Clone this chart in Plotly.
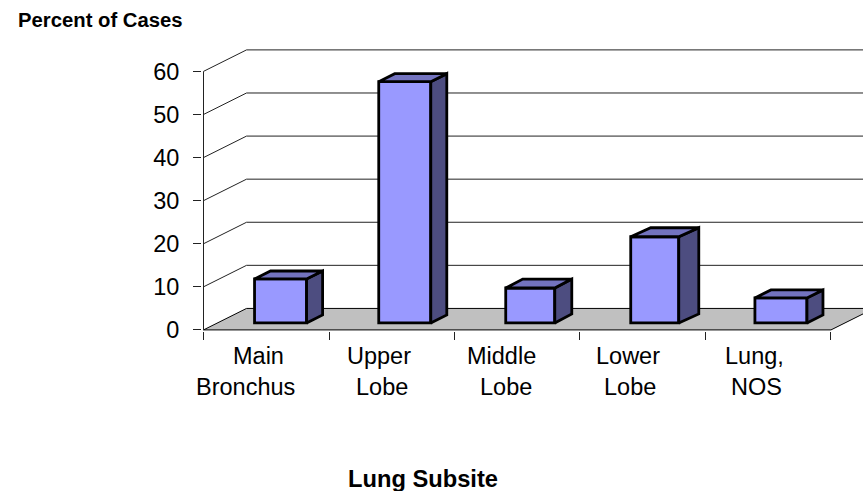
import plotly.graph_objects as go

label_line1 = ["Main", "Upper", "Middle", "Lower", "Lung,"]
label_line2 = ["Bronchus", "Lobe", "Lobe", "Lobe", "NOS"]
values = [10.2, 56, 8.1, 20, 5.8]
y_ticks = [0, 10, 20, 30, 40, 50, 60]

FONT = "Liberation Sans, Arial, sans-serif"
W, H = 863, 491
PX_X, PX_Y = 125.4, 4.31          # pixels per axis unit
X0_PX, Y0_PX = 204, 330           # pixel position of the data origin
XMIN, YMIN = -0.012, -0.25
XMAX, YMAX = (W - X0_PX) / PX_X, (Y0_PX - 48) / PX_Y
WALL_DX, WALL_DY = 43 / PX_X, 21.5 / PX_Y
BAR_OFF_Y = 7 / PX_Y
n = len(values)
mids = [i + 0.5 for i in range(n)]
# per-bar drawing geometry, in pixels (left edge offset from category centre, width, depth)
bar_shift_px = [-11.7, -13, -11.5, -12, -13.3]
bar_width_px = [52, 52, 49, 48, 52]
bar_dx_px = [16, 16, 17, 20, 16]
bar_dy_px = [8, 8, 9, 9, 8]
# label placement (pixels relative to the category centre)
shift1 = [-7.7, -12.5, -16.2, -14.3, -13.3]
shift2 = [-20.7, -10, -11.7, -12.5, -11.3]
LINE1_Y, LINE2_Y = 356, 387
EDGE = 2.8

M_L = X0_PX + XMIN * PX_X
M_B = H - Y0_PX + YMIN * PX_Y
M_T = 48


def paper_x(px):
    return (px - M_L) / (W - M_L)


def paper_y(px):
    return (H - M_B - px) / (H - M_B - M_T)


shapes = []
shapes.append(dict(type="path", layer="below", xref="x", yref="y",
                   path=f"M0,0 L{n},0 L{n + WALL_DX},{WALL_DY} L{WALL_DX},{WALL_DY} Z",
                   fillcolor="#C0C0C0", line=dict(color="black", width=1)))
for t in y_ticks[1:]:
    shapes.append(dict(type="path", layer="below", xref="x", yref="y",
                       path=f"M0,{t} L{WALL_DX},{t + WALL_DY} L{n + WALL_DX},{t + WALL_DY}",
                       line=dict(color="#222222", width=1)))
shapes.append(dict(type="line", layer="below", xref="x", yref="y", x0=0, x1=0, y0=0, y1=y_ticks[-1],
                   line=dict(color="#222222", width=1)))

lefts = [m + (s * -1 + 0) / PX_X * 0 for m, s in zip(mids, bar_shift_px)]
lefts = [m + s / PX_X for m, s in zip(mids, bar_shift_px)]
widths = [w / PX_X for w in bar_width_px]

fig = go.Figure()
fig.add_trace(go.Bar(x=[l + w / 2 for l, w in zip(lefts, widths)], y=values, base=BAR_OFF_Y, width=widths,
                     marker=dict(color="#9999FF", line=dict(color="black", width=EDGE)),
                     hoverinfo="skip", showlegend=False))
for l, w, v, dxp, dyp in zip(lefts, widths, values, bar_dx_px, bar_dy_px):
    r = l + w
    dx, dy = dxp / PX_X, dyp / PX_Y
    b = BAR_OFF_Y
    t = b + v
    fig.add_trace(go.Scatter(x=[r, r + dx, r + dx, r, r], y=[b, b + dy, t + dy, t, b],
                             mode="lines", fill="toself", fillcolor="#4D4D80",
                             line=dict(color="black", width=EDGE), hoverinfo="skip", showlegend=False))
    fig.add_trace(go.Scatter(x=[l, l + dx, r + dx, r, l], y=[t, t + dy, t + dy, t, t],
                             mode="lines", fill="toself", fillcolor="#7373BF",
                             line=dict(color="black", width=EDGE), hoverinfo="skip", showlegend=False))

annotations = []
for m, a, b, s1, s2 in zip(mids, label_line1, label_line2, shift1, shift2):
    cx = X0_PX + m * PX_X
    annotations.append(dict(text=a, x=paper_x(cx + s1), y=paper_y(LINE1_Y), xref="paper", yref="paper",
                            xanchor="center", yanchor="middle", showarrow=False,
                            font=dict(size=23.5, family=FONT)))
    annotations.append(dict(text=b, x=paper_x(cx + s2), y=paper_y(LINE2_Y), xref="paper", yref="paper",
                            xanchor="center", yanchor="middle", showarrow=False,
                            font=dict(size=23.5, family=FONT)))
annotations.append(dict(text="<b>Percent of Cases</b>", x=paper_x(101), y=paper_y(20), xref="paper", yref="paper",
                        xanchor="center", yanchor="middle", showarrow=False, font=dict(size=20.3, family=FONT)))
annotations.append(dict(text="<b>Lung Subsite</b>", x=paper_x(423), y=paper_y(479), xref="paper", yref="paper",
                        xanchor="center", yanchor="middle", showarrow=False, font=dict(size=23.7, family=FONT)))

fig.update_layout(
    width=W, height=H, autosize=False,
    margin=dict(l=M_L, r=0, t=M_T, b=M_B, pad=0),
    paper_bgcolor="white", plot_bgcolor="white", showlegend=False,
    font=dict(family=FONT, color="black", size=23.5),
    shapes=shapes,
    annotations=annotations,
    xaxis=dict(range=[XMIN, XMAX], tickmode="array", tickvals=list(range(n + 1)), ticktext=[""] * (n + 1),
               ticks="outside", ticklen=8, tickcolor="#222222", showgrid=False, zeroline=False, showline=False),
    yaxis=dict(range=[YMIN, YMAX], tickmode="array", tickvals=y_ticks, ticks="outside", ticklen=8,
               tickcolor="#222222", showgrid=False, zeroline=False, showline=False,
               ticklabelstandoff=9, tickfont=dict(size=23.5, family=FONT)),
)
fig.write_html("out.html", config={"displayModeBar": False},
               post_script="document.body.style.margin='0';document.body.style.overflow='hidden';")
